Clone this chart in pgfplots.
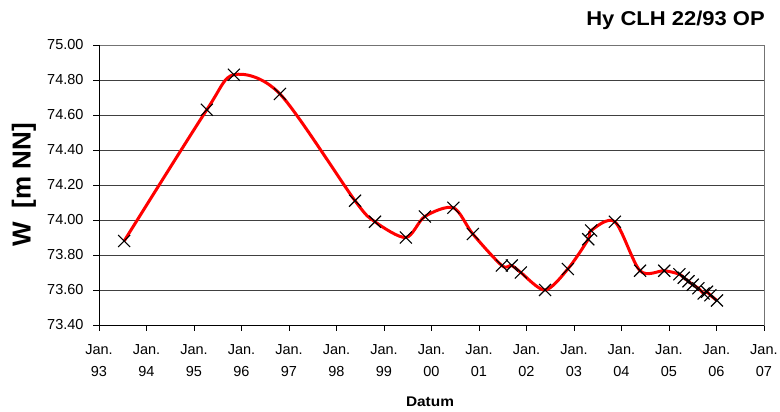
\documentclass[border=0pt]{standalone}
\usepackage{fontspec}
\setmainfont{Liberation Sans}
\newfontfamily\tickfont{Liberation Sans}
\newfontfamily\titlefont[FakeStretch=1.1]{Liberation Sans Bold}
\usepackage{pgfplots}
\pgfplotsset{compat=1.18}
\begin{document}
\begin{tikzpicture}
\path[use as bounding box] (0pt,0pt) rectangle (780pt,412pt);
\begin{axis}[
  at={(99pt,87pt)}, anchor=south west,
  width=665pt, height=280pt, scale only axis,
  xmin=1993, xmax=2007, ymin=73.4, ymax=75.0,
  xtick={1993,1994,...,2007},
  xticklabels={Jan.\\93,Jan.\\94,Jan.\\95,Jan.\\96,Jan.\\97,Jan.\\98,Jan.\\99,Jan.\\00,Jan.\\01,Jan.\\02,Jan.\\03,Jan.\\04,Jan.\\05,Jan.\\06,Jan.\\07},
  ytick={73.4,73.6,73.8,74.0,74.2,74.4,74.6,74.8,75.0},
  yticklabel={\pgfmathprintnumber[fixed,fixed zerofill,precision=2]{\tick}},
  /pgf/number format/assume math mode=true,
  xtick pos=left, ytick pos=left,
  tick align=outside, major tick length=6pt,
  tick style={black, line width=0.8pt},
  ymajorgrids, grid style={black!75, line width=0.9pt},
  axis line style={black!55, line width=0.9pt},
  xticklabel style={font=\tickfont\fontsize{14.5}{21.7}\selectfont, align=center, text depth=0pt, yshift=-10pt},
  yticklabel style={font=\tickfont\fontsize{14.5}{16}\selectfont, xshift=-6pt},
  clip=false,
]
\addplot[red, line width=3pt, smooth, tension=0.5] coordinates {
(1993.53,73.88) (1995.27,74.63) (1995.84,74.83) (1996.81,74.72) (1998.39,74.11)
(1998.81,73.99) (1999.46,73.90) (1999.86,74.02) (2000.46,74.07) (2000.87,73.92)
(2001.48,73.74) (2001.69,73.74) (2001.88,73.70) (2002.39,73.60) (2002.87,73.72)
(2003.30,73.89) (2003.36,73.94) (2003.86,73.99) (2004.39,73.71) (2004.90,73.71)
(2005.22,73.69) (2005.31,73.67) (2005.41,73.65) (2005.50,73.63) (2005.62,73.61)
(2005.73,73.58) (2005.80,73.59) (2005.87,73.57) (2006.01,73.54)
};
\addplot[only marks, mark=x, mark size=8.5pt, mark options={black, line width=1.1pt}] coordinates {
(1993.53,73.88) (1995.27,74.63) (1995.84,74.83) (1996.81,74.72) (1998.39,74.11)
(1998.81,73.99) (1999.46,73.90) (1999.86,74.02) (2000.46,74.07) (2000.87,73.92)
(2001.48,73.74) (2001.69,73.74) (2001.88,73.70) (2002.39,73.60) (2002.87,73.72)
(2003.30,73.89) (2003.36,73.94) (2003.86,73.99) (2004.39,73.71) (2004.90,73.71)
(2005.22,73.69) (2005.31,73.67) (2005.41,73.65) (2005.50,73.63) (2005.62,73.61)
(2005.73,73.58) (2005.80,73.59) (2005.87,73.57) (2006.01,73.54)
};
\draw[black, line width=0.9pt] (rel axis cs:0,1) -- (rel axis cs:0,0) -- (rel axis cs:1,0);
\end{axis}
\node[anchor=base east, inner sep=0pt, font=\titlefont\fontsize{20}{24}\selectfont] at (765pt,386pt) {Hy CLH 22/93 OP};
\node[rotate=90, inner sep=0pt, font=\bfseries\fontsize{26}{30}\selectfont] at (24pt,227pt) {W\hspace{14pt}[m NN]};
\node[inner sep=0pt, font=\titlefont\fontsize{14}{16}\selectfont] at (430pt,10pt) {Datum};
\end{tikzpicture}
\end{document}
